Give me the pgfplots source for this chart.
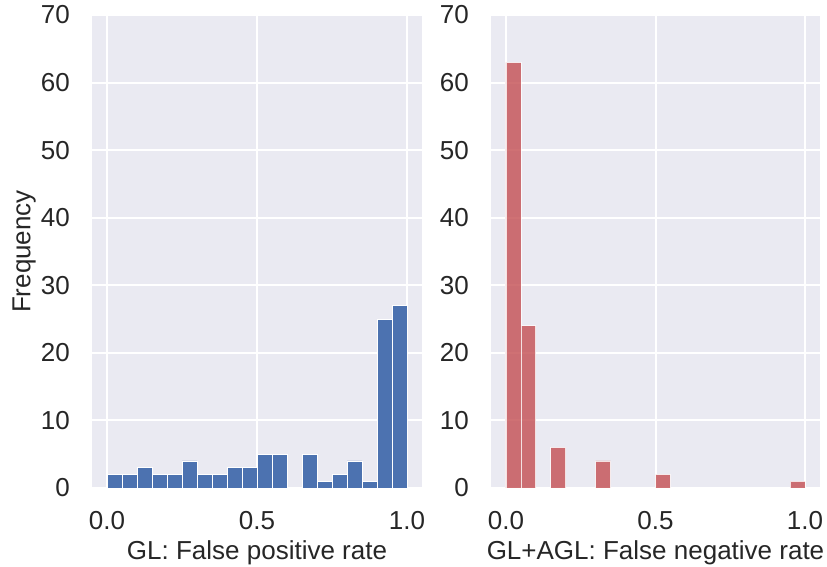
\documentclass[border=0pt]{standalone}
\usepackage{fontspec}
\setmainfont{Liberation Sans}
\usepackage{pgfplots}
\pgfplotsset{compat=1.18}
\definecolor{bg}{HTML}{EAEAF2}
\definecolor{sbblue}{HTML}{4C72B0}
\definecolor{sbred}{HTML}{C44E52}
\begin{document}
\fontsize{26bp}{31bp}\selectfont
\begin{tikzpicture}
\useasboundingbox (0,0) rectangle (827bp,567bp);
\pgfplotsset{
  hist/.style={
    anchor=south west, scale only axis,
    width=330bp, height=473bp,
    xmin=-0.05, xmax=1.05, ymin=0, ymax=70,
    xtick={0,0.5,1}, xticklabels={0.0,0.5,1.0},
    ytick={0,10,...,70},
    /pgf/number format/assume math mode=true,
    grid=major,
    major grid style={white, line width=2bp},
    axis line style={draw=none},
    major tick length=0pt,
    axis background/.style={fill=bg},
    tick label style={font=\fontsize{26bp}{31bp}\selectfont, text=black!85},
    yticklabel style={inner sep=0pt, xshift=-22bp},
    xticklabel style={inner sep=0pt, yshift=-23bp},
    label style={font=\fontsize{26bp}{31bp}\selectfont, text=black!85},
    xlabel style={at={(axis description cs:0.5,0)}, anchor=north, inner sep=0pt, yshift=-52bp},
  }
}
\begin{axis}[hist, at={(92bp,79bp)},
  xlabel={GL: False positive rate},
  ylabel={Frequency},
  ylabel style={at={(axis description cs:0,0.5)}, anchor=south, inner sep=0pt, yshift=56bp},
]
\addplot[ybar, bar width=0.05, bar shift=0pt, fill=sbblue, draw=white, line width=0.8bp] coordinates {
(0.025,2) (0.075,2) (0.125,3) (0.175,2) (0.225,2) (0.275,4) (0.325,2) (0.375,2)
(0.425,3) (0.475,3) (0.525,5) (0.575,5) (0.675,5) (0.725,1) (0.775,2) (0.825,4)
(0.875,1) (0.925,25) (0.975,27)
};
\end{axis}
\begin{axis}[hist, at={(491bp,79bp)}, width=329bp,
  xlabel={GL+AGL: False negative rate},
]
\addplot[ybar, bar width=0.05, bar shift=0pt, fill=sbred, draw=white, opacity=0.8, line width=0.8bp] coordinates {
(0.025,63) (0.075,24) (0.175,6) (0.325,4) (0.525,2) (0.975,1)
};
\end{axis}
\end{tikzpicture}
\end{document}
